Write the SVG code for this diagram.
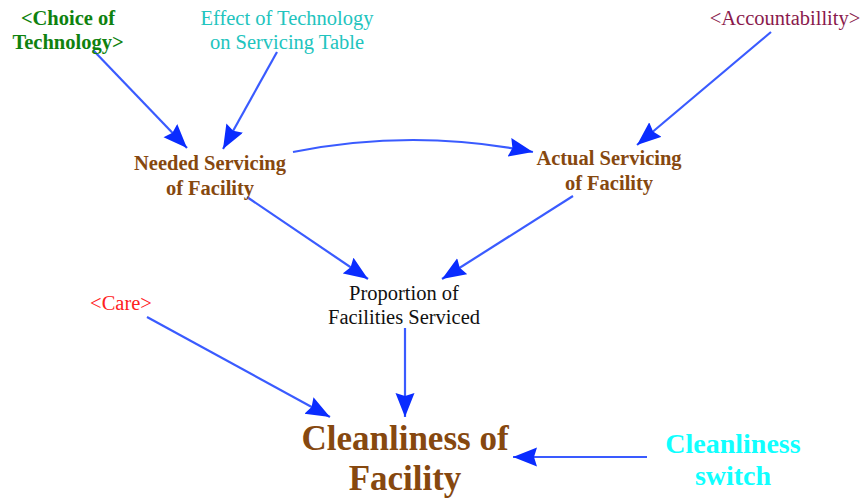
<svg xmlns="http://www.w3.org/2000/svg" width="864" height="504" viewBox="0 0 864 504">
<defs>
<style>
text{font-family:"Liberation Serif","Times New Roman",serif;text-anchor:middle}
.b{font-weight:bold}
.n{font-size:20.5px}
.brown{fill:#86480f}
.c{fill:none;stroke:#3a5bff;stroke-width:2.2;marker-end:url(#ah)}
</style>
<marker id="ah" markerUnits="userSpaceOnUse" markerWidth="26" markerHeight="20" refX="24" refY="9.5" orient="auto">
<path d="M0,0 L24,9.5 L0,19 L3,9.5 z" fill="#0a2cff"/>
</marker>
</defs>
<rect width="864" height="504" fill="#fff"/>
<g id="connectors">
<line class="c" x1="93" y1="50" x2="187" y2="148"/>
<line class="c" x1="277" y1="52" x2="223" y2="149"/>
<path class="c" d="M293,152 Q413,128 533,152"/>
<line class="c" x1="771" y1="32" x2="637" y2="145"/>
<line class="c" x1="247" y1="197" x2="368" y2="279"/>
<line class="c" x1="573" y1="196" x2="442" y2="279"/>
<line class="c" x1="147" y1="317" x2="330" y2="417"/>
<line class="c" x1="405" y1="328" x2="405" y2="417"/>
<line class="c" x1="647" y1="457" x2="513" y2="457"/>
</g>
<g id="choice"><text class="b n" fill="#0f820f"><tspan x="68" y="25">&lt;Choice of</tspan><tspan x="68" y="49">Technology&gt;</tspan></text></g>
<g id="effect"><text class="n" fill="#22c4be"><tspan x="287" y="25">Effect of Technology</tspan><tspan x="287" y="49">on Servicing Table</tspan></text></g>
<g id="accountability"><text class="n" fill="#8a1a4c" x="785" y="25">&lt;Accountabillity&gt;</text></g>
<g id="needed"><text class="b n brown"><tspan x="210" y="170">Needed Servicing</tspan><tspan x="210" y="195">of Facility</tspan></text></g>
<g id="actual"><text class="b n brown"><tspan x="609" y="165">Actual Servicing</tspan><tspan x="609" y="190">of Facility</tspan></text></g>
<g id="proportion"><text class="n" fill="#111"><tspan x="404" y="300">Proportion of</tspan><tspan x="404" y="324">Facilities Serviced</tspan></text></g>
<g id="care"><text class="n" fill="#ff2020" x="121" y="310">&lt;Care&gt;</text></g>
<g id="cleanliness"><text class="b brown" font-size="35"><tspan x="405" y="450">Cleanliness of</tspan><tspan x="405" y="490">Facility</tspan></text></g>
<g id="switch"><text class="b" font-size="28" fill="#10ffff"><tspan x="733" y="453">Cleanliness</tspan><tspan x="733" y="485">switch</tspan></text></g>
</svg>
